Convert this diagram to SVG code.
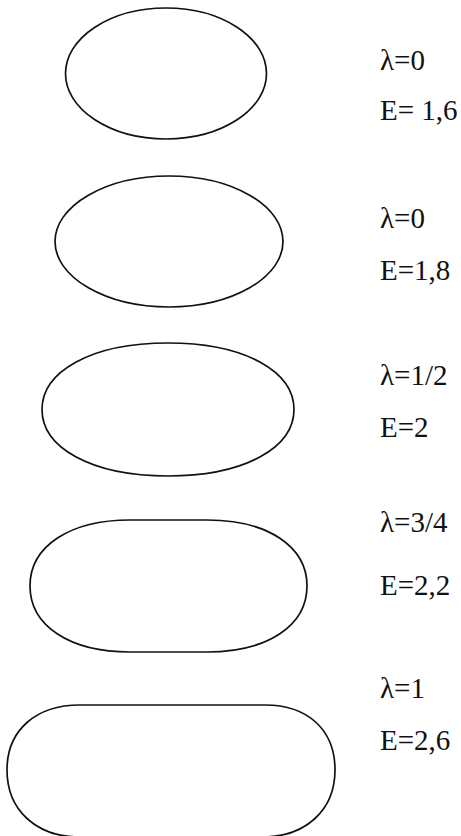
<svg xmlns="http://www.w3.org/2000/svg" width="461" height="836" viewBox="0 0 461 836">
<style>
.s{fill:none;stroke:#111;stroke-width:1.7;stroke-linejoin:round}
.t{font-family:"Liberation Serif","DejaVu Serif",serif;font-size:29px;fill:#111}
</style>
<rect width="461" height="836" fill="#fff"/>
<g id="shape1">
<ellipse class="s" cx="166" cy="73.5" rx="100.5" ry="65.5"/>
<text class="t" x="380" y="70">λ=0</text>
<text class="t" x="380" y="120">E= 1,6</text>
</g>
<g id="shape2">
<ellipse class="s" cx="169" cy="241.5" rx="114" ry="65.5"/>
<text class="t" x="380" y="228">λ=0</text>
<text class="t" x="380" y="280">E=1,8</text>
</g>
<g id="shape3">
<path class="s" d="M168,343 C246,343 294,372 294,409.5 C294,447 246,476 168,476 C90,476 42,447 42,409.5 C42,372 90,343 168,343 Z"/>
<text class="t" x="380" y="385">λ=1/2</text>
<text class="t" x="380" y="437">E=2</text>
</g>
<g id="shape4">
<path class="s" d="M130,520 L207,520 C267,520 307,546 307,586 C307,626 267,652 207,652 L130,652 C70,652 30,626 30,586 C30,546 70,520 130,520 Z"/>
<text class="t" x="380" y="532">λ=3/4</text>
<text class="t" x="380" y="595">E=2,2</text>
</g>
<g id="shape5">
<path class="s" d="M80,705 L265,705 C308,705 335,730 335,770 C335,810 306,837 262,837 L80,837 C36,837 7,810 7,770 C7,730 36,705 80,705 Z"/>
<text class="t" x="380" y="698">λ=1</text>
<text class="t" x="380" y="750">E=2,6</text>
</g>
</svg>
